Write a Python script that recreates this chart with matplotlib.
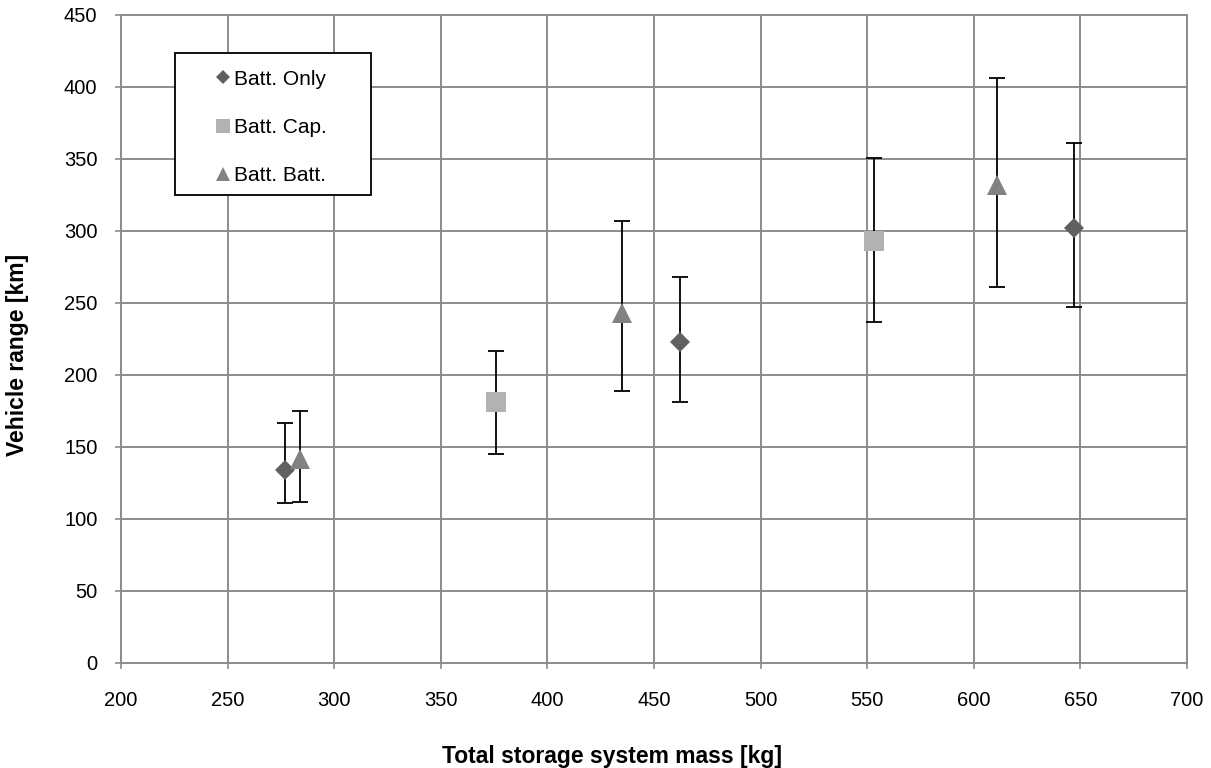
import matplotlib
matplotlib.use("Agg")
import matplotlib.pyplot as plt
from matplotlib.patches import Rectangle
import numpy as np

plt.rcParams['font.family'] = ['Liberation Sans', 'DejaVu Sans']

# Battery only configuration
only_mass = [277, 462, 647]
only_range = [134, 223, 302]
only_low = [111, 181, 247]
only_high = [167, 268, 361]

# Battery + capacitor configuration
cap_mass = [376, 553]
cap_range = [181, 293]
cap_low = [145, 237]
cap_high = [217, 351]

# Battery + battery configuration
bb_mass = [284, 435, 611]
bb_range = [142, 243, 332]
bb_low = [112, 189, 261]
bb_high = [175, 307, 406]

series_labels = ["Batt. Only", "Batt. Cap.", "Batt. Batt."]
x_ticks = [200, 250, 300, 350, 400, 450, 500, 550, 600, 650, 700]
y_ticks = [0, 50, 100, 150, 200, 250, 300, 350, 400, 450]

W, H = 1211, 768
L, R, T, B = 121, 1187, 15, 663

fig = plt.figure(figsize=(W / 100, H / 100), dpi=100)
ax = fig.add_axes([L / W, 1 - B / H, (R - L) / W, (B - T) / H])


def ax_frac(px, py):
    return (px - L) / (R - L), (B - py) / (B - T)


grid_col = '#8c8c8c'
ax.set_xlim(200, 700)
ax.set_ylim(0, 450)
ax.set_xticks(x_ticks)
ax.set_yticks(y_ticks)
ax.grid(True, color=grid_col, linewidth=1.4, zorder=0)
ax.set_axisbelow(True)
for s in ax.spines.values():
    s.set_color(grid_col)
    s.set_linewidth(1.4)
ax.tick_params(axis='both', colors=grid_col, length=4, width=1.2,
               labelcolor='black', labelsize=14.5)
ax.tick_params(axis='x', pad=16)
ax.tick_params(axis='y', pad=13)


def draw(mass, rng, low, high, marker, color, ms, label):
    rng = np.asarray(rng, float)
    yerr = [rng - np.asarray(low), np.asarray(high) - rng]
    ax.errorbar(mass, rng, yerr=yerr, fmt='none', ecolor='black',
                elinewidth=1.3, capsize=6, capthick=1.3, zorder=3)
    return ax.plot(mass, rng, linestyle='none', marker=marker, color=color,
                   markersize=ms, markeredgewidth=0, zorder=4, label=label)[0]


h1 = draw(only_mass, only_range, only_low, only_high, 'D', '#606060', 10.5, series_labels[0])
h2 = draw(cap_mass, cap_range, cap_low, cap_high, 's', '#b2b2b2', 14.5, series_labels[1])
h3 = draw(bb_mass, bb_range, bb_low, bb_high, '^', '#828282', 15, series_labels[2])

# legend box
x0, y0 = ax_frac(175, 195)
x1, y1 = ax_frac(371, 53)
ax.add_patch(Rectangle((x0, y0), x1 - x0, y1 - y0, transform=ax.transAxes,
                       facecolor='white', edgecolor='black', linewidth=1.3,
                       zorder=5, clip_on=False))
leg = ax.legend(handles=[h1, h2, h3], loc='upper left',
                bbox_to_anchor=ax_frac(200, 53),
                borderaxespad=0, frameon=False, fontsize=15, markerscale=0.65,
                handlelength=0.6, handletextpad=0.25, labelspacing=1.4,
                borderpad=0.8)
leg.set_zorder(6)

ax.set_xlabel('Total storage system mass [kg]', fontsize=16.5,
              fontweight='bold')
ax.set_ylabel('Vehicle range [km]', fontsize=16.5, fontweight='bold')
ax.xaxis.set_label_coords(*ax_frac(612, 756))
ax.xaxis.label.set_verticalalignment('center')
ax.yaxis.set_label_coords(*ax_frac(18, 355))
ax.yaxis.label.set_verticalalignment('center')
ax.yaxis.label.set_horizontalalignment('center')

fig.savefig('out.png', dpi=100)
